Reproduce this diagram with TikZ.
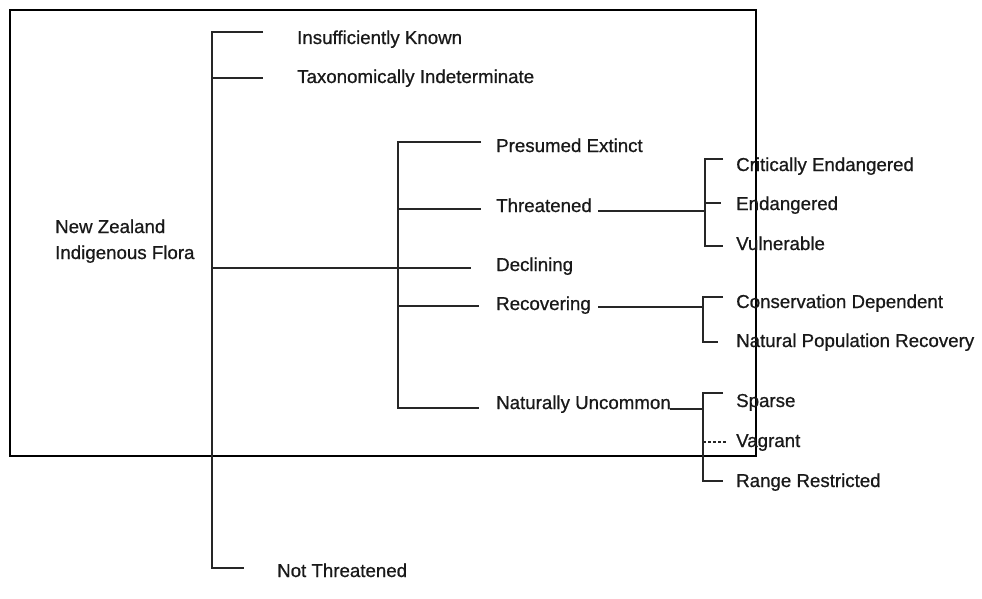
\documentclass[tikz,border=0pt]{standalone}
\usepackage{fontspec}
\setmainfont{Liberation Sans}
\newfontfamily\scanfont{Liberation Sans}[FakeBold=0.7]
\begin{document}
\begin{tikzpicture}[x=1pt,y=-1pt,
  lbl/.style={anchor=base west,inner sep=0pt,font=\scanfont\fontsize{18.7}{26}\selectfont,text=black!90},
  ln/.style={line width=1.7pt,draw=black!85},
  frame/.style={line width=2pt,draw=black}]
\useasboundingbox (0,0) rectangle (982,599);
\fill[white] (0,0) rectangle (982,599);
% frame
\draw[frame] (10,10) rectangle (756,456);
% texts
\node[lbl,align=left] (root) at (55,259) {New Zealand\\Indigenous Flora};
\node[lbl] (ik) at (297,44) {Insufficiently Known};
\node[lbl] (ti) at (297,83) {Taxonomically Indeterminate};
\node[lbl] (pe) at (496,152) {Presumed Extinct};
\node[lbl] (th) at (496,212) {Threatened};
\node[lbl] (de) at (496,271) {Declining};
\node[lbl] (re) at (496,310) {Recovering};
\node[lbl] (nu) at (496,409) {Naturally Uncommon};
\node[lbl] (nt) at (277,577) {Not Threatened};
\node[lbl] (ce) at (736,171) {Critically Endangered};
\node[lbl] (en) at (736,210) {Endangered};
\node[lbl] (vu) at (736,250) {Vulnerable};
\node[lbl] (cd) at (736,308) {Conservation Dependent};
\node[lbl] (np) at (736,347) {Natural Population Recovery};
\node[lbl] (sp) at (736,407) {Sparse};
\node[lbl] (va) at (736,447) {Vagrant};
\node[lbl] (rr) at (736,487) {Range Restricted};
% coordinates
\coordinate (s1t) at (212,32);
\coordinate (s1b) at (212,568);
\coordinate (s2t) at (398,142);
\coordinate (s2b) at (398,408);
\coordinate (ikE) at (263,32);
\coordinate (tiS) at (212,78);
\coordinate (tiE) at (263,78);
\coordinate (rootS) at (212,268);
\coordinate (deE) at (471,268);
\coordinate (ntE) at (244,568);
\coordinate (peE) at (481,142);
\coordinate (thS) at (398,209);
\coordinate (thE) at (481,209);
\coordinate (reS) at (398,306);
\coordinate (reE) at (479,306);
\coordinate (nuE) at (479,408);
% threatened bracket
\coordinate (thA) at (598,211);
\coordinate (bT) at (705,211);
\coordinate (bTt) at (705,159);
\coordinate (bTb) at (705,246);
\coordinate (bTm) at (705,203);
% recovering bracket
\coordinate (reA) at (598,307);
\coordinate (bR) at (703,307);
\coordinate (bRt) at (703,297);
\coordinate (bRb) at (703,342);
% naturally uncommon bracket
\coordinate (nuA) at (670,409);
\coordinate (bN) at (703,409);
\coordinate (bNt) at (703,393);
\coordinate (bNm) at (703,442);
\coordinate (bNb) at (703,481);
% main spine
\draw[ln] (ikE) -- (s1t) -- (s1b) -- (ntE);
\draw[ln] (tiS) -- (tiE);
\draw[ln] (rootS) -- (deE);
% second spine
\draw[ln] (peE) -- (s2t) -- (s2b) -- (nuE);
\draw[ln] (thS) -- (thE);
\draw[ln] (reS) -- (reE);
% Threatened
\draw[ln] (thA) -- (bT);
\draw[ln] ([xshift=18pt]bTt) -- (bTt) -- (bTb) -- ([xshift=18pt]bTb);
\draw[ln] (bTm) -- ([xshift=16pt]bTm);
% Recovering
\draw[ln] (reA) -- (bR);
\draw[ln] ([xshift=20pt]bRt) -- (bRt) -- (bRb) -- ([xshift=15pt]bRb);
% Naturally Uncommon
\draw[ln,line width=1.2pt] (nuA) -- (bN);
\draw[ln] ([xshift=20pt]bNt) -- (bNt) -- (bNb) -- ([xshift=20pt]bNb);
\draw[ln,line width=1.2pt,dash pattern=on 3pt off 2pt] (bNm) -- ([xshift=23pt]bNm);
\end{tikzpicture}
\end{document}
